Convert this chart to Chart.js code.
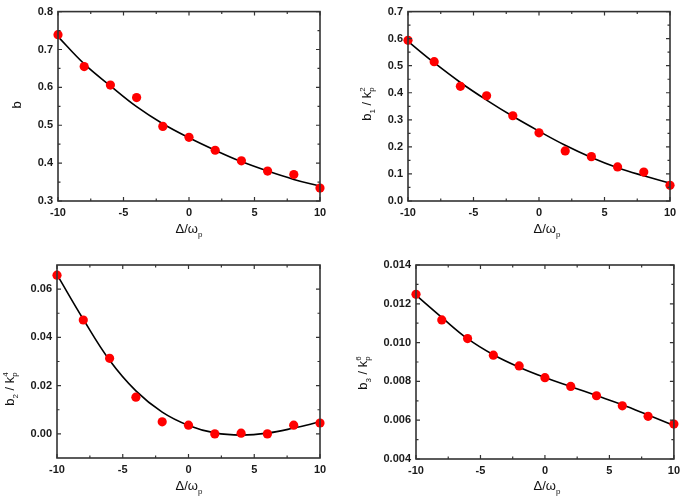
<!DOCTYPE html>
<html>
<head>
<meta charset="utf-8">
<script src="https://cdn.jsdelivr.net/npm/chart.js@4/dist/chart.umd.min.js"></script>
<style>
  html, body { margin: 0; padding: 0; background: #fff; }
  #page { position: relative; width: 685px; height: 499px; overflow: hidden; font-family: "Liberation Sans", Arial, sans-serif; color: #111; }
  canvas { position: absolute; }
  .t { position: absolute; font-size: 13px; white-space: nowrap; line-height: 1; }
  .rot { transform: translate(-50%, -50%) rotate(-90deg); }
  .hor { transform: translate(-50%, -50%); }
  sub { font-size: 8px; vertical-align: -4px; }
  .stk { display: inline-block; vertical-align: middle; font-size: 8px; line-height: 9px; text-align: left; position: relative; top: -1px; }
</style>
</head>
<body>
<div id="page">
  <canvas id="c1" width="342" height="250" style="left:0;top:0"></canvas>
  <canvas id="c2" width="343" height="250" style="left:342px;top:0"></canvas>
  <canvas id="c3" width="342" height="249" style="left:0;top:250px"></canvas>
  <canvas id="c4" width="343" height="249" style="left:342px;top:250px"></canvas>

  <div class="t rot" style="left:16px;top:105px">b</div>
  <div class="t hor" style="left:189px;top:230px">Δ/ω<sub>p</sub></div>

  <div class="t rot" style="left:368px;top:104px">b<sub>1</sub> / k<span class="stk">2<br>p</span></div>
  <div class="t hor" style="left:547px;top:230px">Δ/ω<sub>p</sub></div>

  <div class="t rot" style="left:11px;top:389px">b<sub>2</sub> / k<span class="stk">4<br>p</span></div>
  <div class="t hor" style="left:189px;top:487px">Δ/ω<sub>p</sub></div>

  <div class="t rot" style="left:364px;top:373px">b<sub>3</sub> / k<span class="stk">6<br>p</span></div>
  <div class="t hor" style="left:547px;top:487px">Δ/ω<sub>p</sub></div>
</div>
<script>
// ---- data ----
const detuning = [-10, -8, -6, -4, -2, 0, 2, 4, 6, 8, 10];
const xTicks = [-10, -5, 0, 5, 10];

const b0Points  = [0.739, 0.655, 0.606, 0.573, 0.497, 0.468, 0.434, 0.406, 0.379, 0.370, 0.334];
const b0Fit     = [0.734, 0.662, 0.604, 0.549, 0.504, 0.467, 0.434, 0.404, 0.379, 0.357, 0.339];
const b0Ticks   = [0.3, 0.4, 0.5, 0.6, 0.7, 0.8];

const b1Points  = [0.594, 0.515, 0.424, 0.389, 0.315, 0.252, 0.185, 0.164, 0.126, 0.107, 0.058];
const b1Fit     = [0.590, 0.511, 0.438, 0.373, 0.313, 0.258, 0.206, 0.161, 0.123, 0.093, 0.066];
const b1Ticks   = [0.0, 0.1, 0.2, 0.3, 0.4, 0.5, 0.6, 0.7];

const b2Points  = [0.0658, 0.0472, 0.0313, 0.0152, 0.0050, 0.0036, 0.0000, 0.0003, 0.0000, 0.0036, 0.0045];
const b2Fit     = [0.0660, 0.0475, 0.0305, 0.0178, 0.0090, 0.0035, 0.0004, -0.0005, 0.0003, 0.0024, 0.0050];
const b2Ticks   = [0.00, 0.02, 0.04, 0.06];

const b3Points  = [0.01249, 0.01117, 0.01021, 0.00935, 0.00880, 0.00819, 0.00774, 0.00726, 0.00674, 0.00620, 0.00580];
const b3Fit     = [0.01245, 0.01130, 0.01020, 0.00937, 0.00873, 0.00820, 0.00773, 0.00727, 0.00680, 0.00627, 0.00573];
const b3Ticks   = [0.004, 0.006, 0.008, 0.010, 0.012, 0.014];

// ---- drawing ----
const frameColor = '#333';
const framePlugin = {
  id: 'frame',
  afterDatasetsDraw(chart, args, opts) {
    const ctx = chart.ctx, a = chart.chartArea;
    const xs = chart.scales.x, ys = chart.scales.y;
    ctx.save();
    ctx.strokeStyle = frameColor;
    ctx.lineWidth = 1.6;
    ctx.strokeRect(a.left, a.top, a.right - a.left, a.bottom - a.top);
    ctx.lineWidth = 1.2;
    const maj = 4, min = 2.5;
    function xTick(v, len) {
      const px = xs.getPixelForValue(v);
      ctx.beginPath();
      ctx.moveTo(px, a.bottom); ctx.lineTo(px, a.bottom - len);
      ctx.moveTo(px, a.top); ctx.lineTo(px, a.top + len);
      ctx.stroke();
    }
    function yTick(v, len) {
      const py = ys.getPixelForValue(v);
      ctx.beginPath();
      ctx.moveTo(a.left, py); ctx.lineTo(a.left + len, py);
      ctx.moveTo(a.right, py); ctx.lineTo(a.right - len, py);
      ctx.stroke();
    }
    const xt = opts.xTicks, yt = opts.yTicks;
    xt.forEach(v => xTick(v, maj));
    for (let i = 0; i < xt.length - 1; i++) xTick((xt[i] + xt[i + 1]) / 2, min);
    yt.forEach(v => { if (v >= ys.min - 1e-12 && v <= ys.max + 1e-12) yTick(v, maj); });
    const step = yt[1] - yt[0];
    const mins = [];
    for (let i = 0; i < yt.length - 1; i++) mins.push((yt[i] + yt[i + 1]) / 2);
    mins.push(yt[0] - step / 2, yt[yt.length - 1] + step / 2);
    mins.forEach(v => { if (v > ys.min + 1e-12 && v < ys.max - 1e-12) yTick(v, min); });
    ctx.restore();
  }
};

function makeChart(id, pts, fit, yTicks, yMin, yMax, dec, pad, yW, xH) {
  const tickFont = { family: '"Liberation Sans", Arial, sans-serif', size: 11, weight: 'bold' };
  new Chart(document.getElementById(id), {
    type: 'scatter',
    data: {
      datasets: [
        {
          data: detuning.map((x, i) => ({ x, y: fit[i] })),
          showLine: true, borderColor: '#000', borderWidth: 1.6,
          pointRadius: 0, tension: 0.4, fill: false, order: 2
        },
        {
          data: detuning.map((x, i) => ({ x, y: pts[i] })),
          showLine: false, pointRadius: 4.6, pointBackgroundColor: '#f00',
          pointBorderColor: '#f00', pointBorderWidth: 0, order: 1
        }
      ]
    },
    options: {
      responsive: false, animation: false, devicePixelRatio: 1,
      clip: false,
      layout: { padding: pad },
      plugins: {
        legend: { display: false }, tooltip: { enabled: false },
        frame: { xTicks, yTicks }
      },
      scales: {
        x: {
          type: 'linear', min: -10, max: 10,
          afterBuildTicks: s => { s.ticks = xTicks.map(v => ({ value: v })); },
          afterFit: s => { s.height = xH; },
          grid: { display: false, drawTicks: false },
          border: { display: false },
          ticks: { color: '#1a1a1a', font: tickFont, padding: 5, maxRotation: 0, callback: v => String(v) }
        },
        y: {
          type: 'linear', min: yMin, max: yMax,
          afterBuildTicks: s => { s.ticks = yTicks.map(v => ({ value: v })); },
          afterFit: s => { s.width = yW; },
          grid: { display: false, drawTicks: false },
          border: { display: false },
          ticks: { color: '#1a1a1a', font: tickFont, padding: 5, callback: v => Number(v).toFixed(dec) }
        }
      }
    },
    plugins: [framePlugin]
  });
}

makeChart('c1', b0Points, b0Fit, b0Ticks, 0.3, 0.8, 1, { left: 0, top: 7, right: 22, bottom: 0 }, 58, 49);
makeChart('c2', b1Points, b1Fit, b1Ticks, 0.0, 0.7, 1, { left: 0, top: 7, right: 15, bottom: 0 }, 66, 49);
makeChart('c3', b2Points, b2Fit, b2Ticks, -0.01, 0.07, 2, { left: 0, top: 15, right: 22, bottom: 0 }, 57, 41);
makeChart('c4', b3Points, b3Fit, b3Ticks, 0.004, 0.014, 3, { left: 0, top: 15, right: 7, bottom: 0 }, 74, 40);
</script>
</body>
</html>
